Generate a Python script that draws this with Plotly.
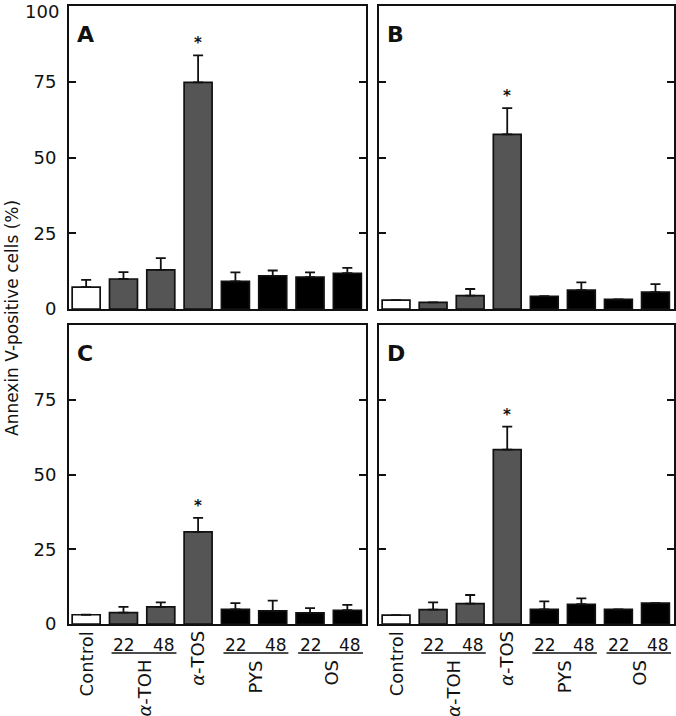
import plotly.graph_objects as go

W, H = 676, 716

categories = ["Control", "α-TOH 22", "α-TOH 48", "α-TOS", "PYS 22", "PYS 48", "OS 22", "OS 48"]
bar_colors = ["#ffffff", "#555555", "#555555", "#555555", "#000000", "#000000", "#000000", "#000000"]

A_mean = [7.2, 9.9, 12.9, 74.8, 9.1, 10.9, 10.5, 11.8]
A_err = [2.4, 2.3, 3.9, 8.9, 3.0, 1.8, 1.6, 1.8]
B_mean = [2.9, 2.2, 4.4, 57.6, 4.2, 6.2, 3.2, 5.6]
B_err = [None, None, 2.2, 8.7, None, 2.6, None, 2.6]
C_mean = [3.1, 3.8, 5.7, 30.8, 4.9, 4.4, 3.7, 4.6]
C_err = [None, 1.9, 1.5, 4.7, 2.1, 3.4, 1.6, 1.8]
D_mean = [3.0, 4.8, 6.8, 58.3, 4.9, 6.6, 4.9, 7.0]
D_err = [None, 2.4, 2.9, 7.7, 2.7, 2.0, None, None]

panel_letters = ["A", "B", "C", "D"]
significant = ["α-TOS"]
y_tick_top = [0, 25, 50, 75, 100]
y_tick_bottom = [0, 25, 50, 75]
y_title = "Annexin V-positive cells (%)"

# x-axis group labels (bottom panels)
single_labels = [("Control", 0.02), ("<i>α</i>-TOS", 2.98)]
dose_labels = [("22", 1.02), ("48", 2.08), ("22", 4.02), ("48", 5.08), ("22", 6.02), ("48", 7.08)]
group_labels = [("<i>α</i>-TOH", 1.55), ("PYS", 4.55), ("OS", 6.55)]
group_spans = [(0.68, 2.42), (3.68, 5.42), (5.68, 7.42)]

FONT = "DejaVu Sans"

fig = go.Figure()

panels = [(A_mean, A_err), (B_mean, B_err), (C_mean, C_err), (D_mean, D_err)]
xdoms = [[69 / W, 366 / W], [379 / W, 674 / W]]
ydoms = [[(H - 309) / H, (H - 6) / H], [(H - 624) / H, (H - 325) / H]]

for i, (m, e) in enumerate(panels):
    idx = i + 1
    xa = "x" if idx == 1 else f"x{idx}"
    ya = "y" if idx == 1 else f"y{idx}"
    fig.add_trace(go.Bar(
        x=categories, y=m, xaxis=xa, yaxis=ya,
        marker=dict(color=bar_colors, line=dict(color="#111111", width=1.7)),
        width=0.75,
        error_y=dict(type="data", symmetric=False, array=e, arrayminus=[0] * len(m),
                     color="#111111", thickness=1.8, width=5),
        showlegend=False,
    ))
    row, col = divmod(i, 2)
    xkey = "xaxis" if idx == 1 else f"xaxis{idx}"
    ykey = "yaxis" if idx == 1 else f"yaxis{idx}"
    fig.layout[xkey] = dict(domain=xdoms[col], anchor=ya, type="category", automargin=False,
                            categoryorder="array", categoryarray=categories,
                            range=[-0.46, 7.5], showticklabels=False, ticks="",
                            showline=True, linecolor="#111111", linewidth=2, mirror=True,
                            showgrid=False, zeroline=False, fixedrange=True)
    tv = y_tick_top if row == 0 else y_tick_bottom
    # the topmost label ("100") is placed as a text below so it stays inside the picture
    tt = [str(v) if v < 100 else "" for v in tv]
    fig.layout[ykey] = dict(domain=ydoms[row], anchor=xa, range=[0, 100], automargin=False,
                            tickmode="array", tickvals=tv, ticktext=tt,
                            showticklabels=(col == 0), ticks="inside", ticklen=7, tickwidth=1.6,
                            tickcolor="#111111", ticklabelstandoff=7, ticklabeloverflow="allow",
                            showline=True, linecolor="#111111", linewidth=2, mirror="ticks",
                            showgrid=False, zeroline=False, fixedrange=True,
                            tickfont=dict(family=FONT, size=18, color="#111111"))
    if col == 0 and 100 in tv:
        fig.add_annotation(text=str(tv[-1]), xref=f"{xa} domain", yref="paper", x=0, y=1,
                           xanchor="right", yanchor="top", xshift=-8, yshift=1, showarrow=False,
                           font=dict(family=FONT, size=18, color="#111111"))
    # panel letter
    fig.add_annotation(text=f"<b>{panel_letters[i]}</b>", xref=f"{xa} domain", yref=f"{ya} domain",
                       x=0, y=1, xanchor="left", yanchor="top", xshift=6, yshift=-14,
                       showarrow=False, font=dict(family=FONT, size=22, color="#111111"))
    # significance asterisk
    for c in significant:
        k = categories.index(c)
        top = m[k] + (e[k] or 0)
        fig.add_annotation(text="<b>*</b>", xref=xa, yref=ya, x=c, y=top, yanchor="bottom", yshift=1,
                           showarrow=False, font=dict(family=FONT, size=15, color="#111111"))
    # x labels for the bottom row
    if row == 1:
        for txt, xp in single_labels:
            fig.add_annotation(text=txt, xref=xa, yref=ya, x=xp, y=0, textangle=-90,
                               xanchor="center", yanchor="top", yshift=-5, showarrow=False,
                               font=dict(family=FONT, size=18, color="#111111"))
        for txt, xp in dose_labels:
            fig.add_annotation(text=txt, xref=xa, yref=ya, x=xp, y=0,
                               xanchor="center", yanchor="top", yshift=-9, showarrow=False,
                               font=dict(family=FONT, size=17, color="#111111"))
        for txt, xp in group_labels:
            fig.add_annotation(text=txt, xref=xa, yref=ya, x=xp, y=0, textangle=-90,
                               xanchor="center", yanchor="top", yshift=-34, showarrow=False,
                               font=dict(family=FONT, size=18, color="#111111"))
        for x0, x1 in group_spans:
            fig.add_shape(type="line", xref=xa, yref="paper", x0=x0, x1=x1,
                          ysizemode="pixel", yanchor=ydoms[1][0], y0=-29, y1=-29,
                          line=dict(color="#111111", width=1.5))

fig.add_annotation(text=y_title, xref="paper", yref="paper", x=12 / W, y=(H - 318) / H,
                   textangle=-90, showarrow=False, xanchor="center", yanchor="middle",
                   font=dict(family=FONT, size=17, color="#111111"))

fig.update_layout(width=W, height=H, margin=dict(l=0, r=0, t=0, b=0, autoexpand=False),
                  paper_bgcolor="white", plot_bgcolor="white", bargap=0.25,
                  font=dict(family=FONT, color="#111111"))

fig.write_html("out.html", config={"displayModeBar": False},
               post_script="document.body.style.margin='0px';document.body.style.overflow='hidden';")
